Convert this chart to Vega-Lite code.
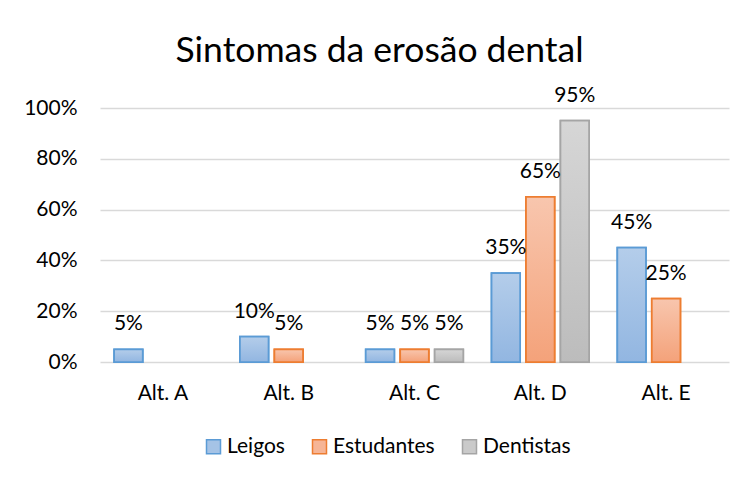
{
  "$schema": "https://vega.github.io/schema/vega-lite/v6.json",
  "width": 629,
  "height": 254,
  "autosize": {"type": "none"},
  "padding": {"left": 100, "top": 108, "right": 18, "bottom": 118},
  "background": "white",
  "title": {
    "text": "Sintomas da erosão dental",
    "font": "Lato",
    "fontSize": 35.5,
    "fontWeight": "normal",
    "color": "#000000",
    "anchor": "middle",
    "dx": -35,
    "offset": 15
  },
  "data": {
    "values": [
      {"alt": "Alt. A", "grupo": "Leigos", "valor": 0.05},
      {"alt": "Alt. B", "grupo": "Leigos", "valor": 0.10},
      {"alt": "Alt. B", "grupo": "Estudantes", "valor": 0.05},
      {"alt": "Alt. C", "grupo": "Leigos", "valor": 0.05},
      {"alt": "Alt. C", "grupo": "Estudantes", "valor": 0.05},
      {"alt": "Alt. C", "grupo": "Dentistas", "valor": 0.05},
      {"alt": "Alt. D", "grupo": "Leigos", "valor": 0.35},
      {"alt": "Alt. D", "grupo": "Estudantes", "valor": 0.65},
      {"alt": "Alt. D", "grupo": "Dentistas", "valor": 0.95},
      {"alt": "Alt. E", "grupo": "Leigos", "valor": 0.45},
      {"alt": "Alt. E", "grupo": "Estudantes", "valor": 0.25}
    ]
  },
  "encoding": {
    "x": {
      "field": "alt", "type": "nominal",
      "scale": {"domain": ["Alt. A", "Alt. B", "Alt. C", "Alt. D", "Alt. E"], "paddingInner": 0, "paddingOuter": 0},
      "axis": {"title": null, "labelAngle": 0, "ticks": false, "domain": false, "grid": false, "labelFont": "Lato", "labelFontSize": 21, "labelColor": "#000000", "labelPadding": 20}
    },
    "xOffset": {
      "field": "grupo", "type": "nominal",
      "scale": {"domain": ["Leigos", "Estudantes", "Dentistas"], "paddingInner": 0.17, "paddingOuter": 0.41}
    },
    "y": {
      "field": "valor", "type": "quantitative",
      "scale": {"domain": [0, 1], "nice": false},
      "axis": {"title": null, "format": ".0%", "values": [0, 0.2, 0.4, 0.6, 0.8, 1], "ticks": false, "domain": false, "grid": true, "gridColor": "#d9d9d9", "gridWidth": 1.5, "labelFont": "Lato", "labelFontSize": 21, "labelColor": "#000000", "labelPadding": 23}
    }
  },
  "layer": [
    {
      "mark": {"type": "bar", "strokeWidth": 1.75},
      "encoding": {
        "fill": {
          "field": "grupo", "type": "nominal",
          "scale": {"domain": ["Leigos", "Estudantes", "Dentistas"], "range": ["#a5c3e6", "#f6b596", "#cacaca"]},
          "legend": {"title": null, "orient": "none", "direction": "horizontal", "legendX": 103, "legendY": 328, "symbolType": "square", "symbolSize": 196, "symbolStrokeWidth": 1.5, "labelFont": "Lato", "labelFontSize": 21, "labelColor": "#000000", "labelOffset": 3, "columnPadding": 24}
        },
        "stroke": {
          "field": "grupo", "type": "nominal",
          "scale": {"domain": ["Leigos", "Estudantes", "Dentistas"], "range": ["#5b9bd5", "#ed7d31", "#a5a5a5"]},
          "legend": {"title": null, "orient": "none", "direction": "horizontal", "legendX": 103, "legendY": 328, "symbolType": "square", "symbolSize": 196, "symbolStrokeWidth": 1.5, "labelFont": "Lato", "labelFontSize": 21, "labelColor": "#000000", "labelOffset": 3, "columnPadding": 24}
        }
      }
    },
    {
      "transform": [{"filter": "datum.grupo === 'Leigos'"}],
      "mark": {"type": "bar", "strokeWidth": 1.75, "stroke": "#5b9bd5",
        "fill": {"gradient": "linear", "x1": 0, "y1": 0, "x2": 0, "y2": 1, "stops": [{"offset": 0, "color": "#b4cdea"}, {"offset": 1, "color": "#92b6e1"}]}}
    },
    {
      "transform": [{"filter": "datum.grupo === 'Estudantes'"}],
      "mark": {"type": "bar", "strokeWidth": 1.75, "stroke": "#ed7d31",
        "fill": {"gradient": "linear", "x1": 0, "y1": 0, "x2": 0, "y2": 1, "stops": [{"offset": 0, "color": "#f8c6ae"}, {"offset": 1, "color": "#f4a27a"}]}}
    },
    {
      "transform": [{"filter": "datum.grupo === 'Dentistas'"}],
      "mark": {"type": "bar", "strokeWidth": 1.75, "stroke": "#a5a5a5",
        "fill": {"gradient": "linear", "x1": 0, "y1": 0, "x2": 0, "y2": 1, "stops": [{"offset": 0, "color": "#d6d6d6"}, {"offset": 1, "color": "#bcbcbc"}]}}
    },
    {
      "mark": {"type": "text", "font": "Lato", "fontSize": 21, "color": "#000000", "baseline": "middle", "dy": -25},
      "encoding": {
        "text": {"field": "valor", "type": "quantitative", "format": ".0%"}
      }
    }
  ],
  "config": {
    "view": {"stroke": null}
  }
}
